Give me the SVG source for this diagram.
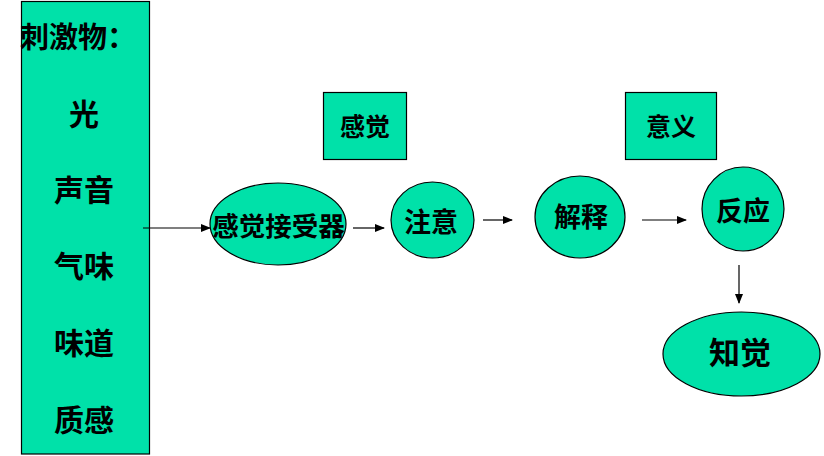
<svg xmlns="http://www.w3.org/2000/svg" width="824" height="456" viewBox="0 0 824 456">
<style>
.n{fill:#00E1A9;stroke:#000;stroke-width:1.2}
.t{font-family:"Noto Sans CJK SC","Noto Sans CJK JP",sans-serif;font-weight:700;fill:#000;text-anchor:middle;dominant-baseline:central}
.c{stroke:#000;stroke-width:1.2;fill:none;marker-end:url(#a)}
</style>
<defs>
<marker id="a" markerWidth="10" markerHeight="8" refX="9" refY="4" orient="auto" markerUnits="userSpaceOnUse">
<path d="M0,0 L10,4 L0,8 Z" fill="#000"/>
</marker>
</defs>
<rect width="824" height="456" fill="#fff"/>
<g id="stimuli">
<rect class="n" x="21.5" y="1.5" width="128" height="452.5"/>
<text class="t" x="20" y="35" style="text-anchor:start;font-size:29px">刺激物：</text>
<text class="t" x="84" y="112" font-size="30">光</text>
<text class="t" x="84" y="188" font-size="30">声音</text>
<text class="t" x="84" y="264" font-size="30">气味</text>
<text class="t" x="84" y="341" font-size="30">味道</text>
<text class="t" x="84" y="418" font-size="30">质感</text>
</g>
<g id="sensation">
<rect class="n" x="323.5" y="92.5" width="83" height="67"/>
<text class="t" x="365" y="125" font-size="25">感觉</text>
</g>
<g id="meaning">
<rect class="n" x="625.5" y="92.5" width="91" height="67"/>
<text class="t" x="671" y="125" font-size="25">意义</text>
</g>
<g id="receptor">
<ellipse class="n" cx="278" cy="224" rx="68" ry="41"/>
<text class="t" x="278.5" y="224" font-size="26.5">感觉接受器</text>
</g>
<g id="attention">
<ellipse class="n" cx="432.5" cy="220" rx="41.5" ry="38"/>
<text class="t" x="431" y="220" font-size="27">注意</text>
</g>
<g id="interpretation">
<ellipse class="n" cx="580" cy="217" rx="45" ry="41"/>
<text class="t" x="581" y="215" font-size="27">解释</text>
</g>
<g id="response">
<ellipse class="n" cx="743" cy="209" rx="41" ry="42"/>
<text class="t" x="743" y="209" font-size="27">反应</text>
</g>
<g id="perception">
<ellipse class="n" cx="741.5" cy="354" rx="78.5" ry="42"/>
<text class="t" x="740" y="350" font-size="31">知觉</text>
</g>
<g id="connectors">
<line class="c" x1="143" y1="228" x2="210" y2="228"/>
<line class="c" x1="353" y1="228" x2="384" y2="228"/>
<line class="c" x1="483" y1="220" x2="512" y2="220"/>
<line class="c" x1="642" y1="220" x2="686" y2="220"/>
<line class="c" x1="739" y1="265" x2="739" y2="303"/>
</g>
</svg>
